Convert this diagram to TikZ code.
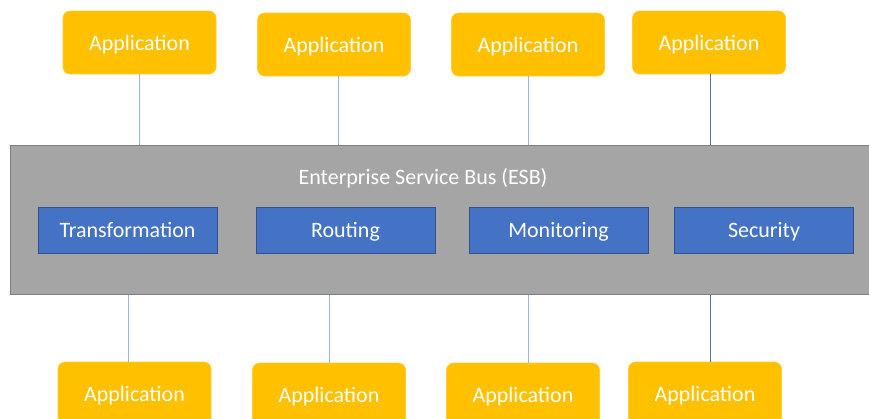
\documentclass[tikz,border=0pt]{standalone}
\usepackage{fontspec}
\setmainfont{Carlito}
\definecolor{appyellow}{HTML}{FFC000}
\definecolor{esbgray}{HTML}{A5A5A5}
\definecolor{esbborder}{HTML}{7F7F7F}
\definecolor{funcblue}{HTML}{4472C4}
\definecolor{funcborder}{HTML}{2F528F}
\definecolor{linklight}{HTML}{9DB3DD}
\definecolor{linkdark}{HTML}{4F6FAF}
\tikzset{
  lbl/.style={text=white, font=\fontsize{22}{26}\selectfont, text height=16.5pt, text depth=1.5pt},
  app/.style={lbl, fill=appyellow, draw=appyellow!80!white, line width=0.6pt, rounded corners=7pt,
    minimum width=153pt, minimum height=63pt, inner sep=0pt},
  func/.style={lbl, fill=funcblue, draw=funcborder, line width=0.8pt,
    minimum width=179pt, minimum height=46pt, inner sep=0pt},
  esbbar/.style={fill=esbgray, draw=esbborder, line width=1.2pt, inner sep=0pt},
  linkl/.style={draw=linklight, line width=0.9pt},
  linkd/.style={draw=linkdark, line width=0.9pt}
}
\begin{document}
\begin{tikzpicture}[x=1pt,y=-1pt]
\useasboundingbox (0,0) rectangle (869,418);
\node[esbbar, minimum width=860pt, minimum height=149pt, anchor=north west] (esb) at (10,145) {};
\node[lbl] (esbtitle) at (423,177) {Enterprise Service Bus (ESB)};
\node[func] (f1) at (127.5,230) {Transformation};
\node[func] (f2) at (345.5,230) {Routing};
\node[func] (f3) at (558.5,230) {Monitoring};
\node[func] (f4) at (764,230) {Security};
% top applications
\node[app] (t1) at (139.5,42.5) {Application};
\node[app] (t2) at (334,44.5) {Application};
\node[app] (t3) at (528,44.5) {Application};
\node[app] (t4) at (709,42.5) {Application};
% bottom applications
\node[app] (b1) at (134.5,393.5) {Application};
\node[app] (b2) at (329,394.5) {Application};
\node[app] (b3) at (523,394.5) {Application};
\node[app] (b4) at (705,393.5) {Application};
% connectors
\draw[linkl] (t1.south) -- (t1.south |- esb.north);
\draw[linkl] ([xshift=4pt]t2.south) -- ([xshift=4pt]t2.south |- esb.north);
\draw[linkl] (t3.south) -- (t3.south |- esb.north);
\draw[linkd] ([xshift=1pt]t4.south) -- ([xshift=1pt]t4.south |- esb.north);
\draw[linkl] ([xshift=-6.5pt]b1.north) -- ([xshift=-6.5pt]b1.north |- esb.south);
\draw[linkl] (b2.north) -- (b2.north |- esb.south);
\draw[linkl] ([xshift=5pt]b3.north) -- ([xshift=5pt]b3.north |- esb.south);
\draw[linkd] ([xshift=5pt]b4.north) -- ([xshift=5pt]b4.north |- esb.south);
\end{tikzpicture}
\end{document}
